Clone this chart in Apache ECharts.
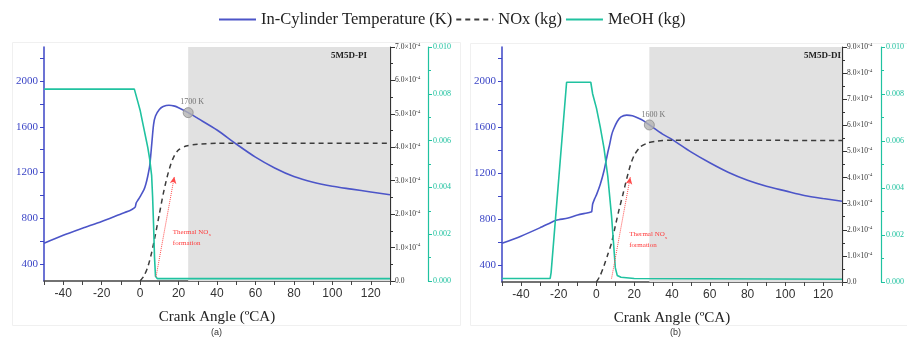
<!DOCTYPE html>
<html><head><meta charset="utf-8">
<script src="https://cdn.jsdelivr.net/npm/echarts@6/dist/echarts.min.js"></script>
<style>html,body{margin:0;padding:0;background:#fff}#c{width:907px;height:340px}</style>
</head><body><div id="c"></div><script>
// ---------- data ----------
const NAME_T = 'In-Cylinder Temperature (K)';
const NAME_N = 'NOx (kg)';
const NAME_M = 'MeOH (kg)';

const tempPI = [[-50,580],[-40,650],[-30,712],[-20,772],[-10,838],[-5,870],[-3,890],[-2.5,900],[-2,935],[-1,962],[0,990],[2,1050],[3,1100],[4,1170],[5,1260],[6,1440],[7,1620],[8,1695],[10,1752],[12,1778],[15,1790],[18,1782],[20,1768],[25,1725],[30,1675],[40,1573],[50,1450],[60,1335],[70,1240],[80,1165],[90,1115],[100,1080],[110,1055],[120,1030],[130,1005]];
const noxPI = [[0,0],[2,0.15e-4],[4,0.42e-4],[6,0.85e-4],[8,1.4e-4],[10,2.0e-4],[12,2.6e-4],[14,3.1e-4],[16,3.5e-4],[18,3.77e-4],[20,3.92e-4],[24,4.04e-4],[30,4.09e-4],[40,4.12e-4],[130,4.12e-4]];
const meohPI = [[-50,0.0082],[-3,0.0082],[-2,0.0079],[-1,0.0076],[0,0.0073],[1,0.0069],[2,0.0065],[3,0.0061],[4,0.0057],[5,0.0052],[6,0.0045],[6.5,0.0036],[7,0.0024],[7.5,0.0010],[8,0.0002],[9,0.0001],[130,0.0001]];

const tempDI = [[-50,589],[-40,650],[-30,722],[-22,785],[-20,793],[-15,808],[-10,835],[-5,852],[-3,860],[-2.5,865],[-2,930],[-1,975],[0,1010],[2,1100],[4,1220],[6,1380],[7,1450],[8,1530],[9,1580],[11,1650],[13,1690],[16,1706],[19,1700],[22,1680],[25,1655],[28,1620],[35,1540],[40,1494],[50,1385],[60,1290],[70,1205],[80,1137],[90,1085],[100,1045],[110,1005],[120,978],[130,955]];
const noxDI = [[0,0],[2,0.25e-4],[4,0.62e-4],[6,1.05e-4],[8,1.5e-4],[10,2.15e-4],[12,2.78e-4],[14,3.35e-4],[16,3.95e-4],[18,4.48e-4],[20,4.85e-4],[23,5.16e-4],[27,5.32e-4],[32,5.40e-4],[40,5.43e-4],[130,5.42e-4]];
const meohDI = [[-50,0.00015],[-24.5,0.00015],[-24,0.0004],[-15.8,0.0085],[-15,0.0085],[-3,0.0085],[-2,0.0080],[0,0.0074],[2,0.0066],[4,0.0057],[6,0.0045],[8,0.0028],[9,0.0017],[10,0.0006],[11,0.00028],[13,0.0002],[20,0.00015],[130,0.00012]];

const shadePI = [25,130];
const shadeDI = [28,130];
const peakPI = [25,1725];  const peakPIText = '1700 K';
const peakDI = [28,1620];  const peakDIText = '1600 K';
const arrowPI = [[8.3,288],[17.8,1164]];
const arrowDI = [[8.0,280],[17.9,1164]];
const notePI = [16.5,631];
const noteDI = [16.8,618];

const xRange = [-50,130];
const tempRange = [250,2300];
const tempLabelVals = [400,800,1200,1600,2000];
const tempTickVals = [400,600,800,1000,1200,1400,1600,1800,2000,2200];
const noxMaxPI = 7e-4, noxMaxDI = 9e-4, noxStep = 1e-4;
const meohMax = 0.010, meohStep = 0.002;
const panelTitles = ['5M5D-PI','5M5D-DI'];
const panelTags = ['(a)','(b)'];

// ---------- styling ----------
const BLUE = '#4c55c8', BLUE_AX = '#3b45c6', TEAL = '#20c2a0', NOXC = '#3c3c3c';
const SERIF = '"Liberation Serif","Times New Roman",serif';
const SANS = '"Liberation Sans",Arial,sans-serif';

const grids = [
  {left:44, top:47, width:346, height:234},
  {left:502, top:47, width:347, height:235}
];

function xAxisFor(g){
  return {
    type:'value', gridIndex:g, min:xRange[0], max:xRange[1], interval:10,
    name:'Crank Angle (ºCA)', nameLocation:'middle', nameGap:29,
    nameTextStyle:{fontFamily:SERIF, fontSize:15, color:'#222'},
    axisLine:{show:true, onZero:false, lineStyle:{color:'#444', width:1.5}},
    axisTick:{show:true, length:4, lineStyle:{color:'#444'}},
    axisLabel:{fontFamily:SANS, fontSize:12, color:'#333', margin:7,
      formatter:v=> (v%20===0 ? String(v) : '')},
    splitLine:{show:false}
  };
}
function tempAxisFor(g){
  return {
    type:'value', gridIndex:g, position:'left', min:tempRange[0], max:tempRange[1], splitNumber:10,
    axisLine:{show:true, onZero:false, lineStyle:{color:BLUE_AX, width:1.5}},
    axisTick:{show:true, length:4, customValues:tempTickVals, lineStyle:{color:BLUE_AX}},
    axisLabel:{fontFamily:SERIF, fontSize:11, color:BLUE_AX, margin:6, customValues:tempLabelVals,
      formatter:v=> (v%400===0 && v>=400 && v<=2000 ? String(v) : '')},
    splitLine:{show:false}
  };
}
function noxAxisFor(g,max){
  return {
    type:'value', gridIndex:g, position:'right', offset:0, min:0, max:max, interval:noxStep,
    axisLine:{show:true, onZero:false, lineStyle:{color:'#333', width:1.2}},
    axisTick:{show:true, length:5, lineStyle:{color:'#333'}},
    minorTick:{show:true, splitNumber:2, length:3, lineStyle:{color:'#333'}},
    axisLabel:{fontFamily:SERIF, fontSize:7.5, color:'#333', margin:5,
      formatter:v=>{const n=Math.round(v/noxStep); return n===0?'0.0':n.toFixed(1)+'×10{s|-4}';},
      rich:{s:{fontSize:5, fontFamily:SERIF, color:'#333', verticalAlign:'top', padding:[0,0,5,0]}}},
    splitLine:{show:false}
  };
}
function meohAxisFor(g,off){
  return {
    type:'value', gridIndex:g, position:'right', offset:off, min:0, max:meohMax, interval:meohStep,
    axisLine:{show:true, onZero:false, lineStyle:{color:TEAL, width:1.2}},
    axisTick:{show:true, length:4, lineStyle:{color:TEAL}},
    minorTick:{show:true, splitNumber:2, length:3, lineStyle:{color:TEAL}},
    axisLabel:{fontFamily:SERIF, fontSize:8, color:TEAL, margin:5, formatter:v=>v.toFixed(3)},
    splitLine:{show:false}
  };
}

function panelSeries(g, temp, nox, meoh, shade, peak, peakText, arrow, note){
  const xi=g, yT=g*3, yN=g*3+1, yM=g*3+2;
  return [
    {name:NAME_T, type:'line', xAxisIndex:xi, yAxisIndex:yT, data:temp, symbol:'none',
     smooth:0.25, lineStyle:{color:BLUE, width:1.6}, itemStyle:{color:BLUE}, z:3,
     markArea:{silent:true, itemStyle:{color:'#e1e1e1'}, data:[[{xAxis:shade[0]},{xAxis:shade[1]}]]},
     markLine:{silent:true, symbol:['none','arrow'], symbolSize:[5,7], label:{show:false},
       lineStyle:{color:'#ff4a4a', type:'dotted', width:1},
       data:[[{coord:arrow[0]},{coord:arrow[1]}]]}
    },
    {name:NAME_N, type:'line', xAxisIndex:xi, yAxisIndex:yN, data:nox, symbol:'none',
     smooth:0.25, lineStyle:{color:NOXC, width:1.5, type:[5,4]}, itemStyle:{color:NOXC}, z:4},
    {name:NAME_M, type:'line', xAxisIndex:xi, yAxisIndex:yM, data:meoh, symbol:'none',
     lineStyle:{color:TEAL, width:1.6}, itemStyle:{color:TEAL}, z:4},
    {name:'peak'+g, type:'scatter', xAxisIndex:xi, yAxisIndex:yT, data:[peak], symbolSize:10, z:6,
     itemStyle:{color:'#b3b3b3', borderColor:'#8c8c8c', borderWidth:1},
     label:{show:true, position:'top', distance:1, offset:[4,0], formatter:peakText,
       fontFamily:SERIF, fontSize:8, color:'#555'}},
    {name:'note'+g, type:'scatter', xAxisIndex:xi, yAxisIndex:yT, data:[note], symbolSize:2, z:6,
     itemStyle:{color:'rgba(255,255,255,0)'},
     label:{show:true, position:'right', distance:0, align:'left', opacity:1,
       formatter:'{a|Thermal NO}{s|x}\n{a|formation}',
       rich:{a:{fontFamily:SERIF, fontSize:7, color:'#ff3b3b', lineHeight:11},
             s:{fontFamily:SERIF, fontSize:5, color:'#ff3b3b', verticalAlign:'bottom', lineHeight:11, padding:[4,0,0,0]}}}}
  ];
}

const chart = echarts.init(document.getElementById('c'), null, {renderer:'canvas'});
chart.setOption({
  backgroundColor:'#fff',
  animation:false,
  legend:{data:[NAME_T,NAME_N,NAME_M], top:6, left:213, itemWidth:37, itemHeight:14, itemGap:3,
    itemStyle:{color:'rgba(0,0,0,0)', borderColor:'rgba(0,0,0,0)', borderWidth:0, opacity:0},
    textStyle:{fontFamily:SERIF, fontSize:16.5, color:'#222'}},
  grid:grids,
  xAxis:[xAxisFor(0), xAxisFor(1)],
  yAxis:[tempAxisFor(0), noxAxisFor(0,noxMaxPI), meohAxisFor(0,38),
         tempAxisFor(1), noxAxisFor(1,noxMaxDI), meohAxisFor(1,39)],
  series:[].concat(
    panelSeries(0,tempPI,noxPI,meohPI,shadePI,peakPI,peakPIText,arrowPI,notePI),
    panelSeries(1,tempDI,noxDI,meohDI,shadeDI,peakDI,peakDIText,arrowDI,noteDI)
  ),
  graphic:[
    {type:'rect', left:10, top:40, shape:{width:448, height:283}, style:{fill:'none', stroke:'#f0f0f0', lineWidth:1}, z:-10, silent:true},
    {type:'rect', left:468, top:41, shape:{width:450, height:282}, style:{fill:'none', stroke:'#f0f0f0', lineWidth:1}, z:-10, silent:true},
    {type:'text', x:367, y:51, style:{text:panelTitles[0], font:'bold 9px '+SERIF, fill:'#222', align:'right'}, z:10},
    {type:'text', x:841, y:51, style:{text:panelTitles[1], font:'bold 9px '+SERIF, fill:'#222', align:'right'}, z:10},
    {type:'text', left:211, top:328, style:{text:panelTags[0], fontFamily:SANS, fontSize:9, fill:'#333'}},
    {type:'text', left:670, top:328, style:{text:panelTags[1], fontFamily:SANS, fontSize:9, fill:'#333'}}
  ]
});
</script></body></html>
